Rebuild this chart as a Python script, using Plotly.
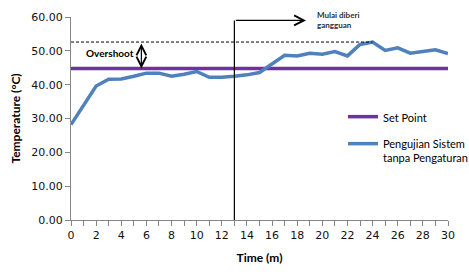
import plotly.graph_objects as go

time_m = list(range(0, 31))
temp_test = [28.2, 33.8, 39.6, 41.6, 41.7, 42.5, 43.4, 43.4, 42.5, 43.1,
             43.9, 42.2, 42.2, 42.5, 42.9, 43.6, 46.0, 48.7, 48.5, 49.3,
             49.0, 49.8, 48.5, 51.9, 52.6, 50.1, 50.9, 49.3, 49.8, 50.3, 49.2]
set_point_value = 44.8
set_point = [set_point_value] * len(time_m)

y_ticks = [0, 10, 20, 30, 40, 50, 60]
x_ticks = list(range(0, 31, 2))

disturb_time = 13
disturb_top = 59.0
disturb_arrow_end = 18.7
overshoot_x = 5.6
peak_value = max(temp_test)
peak_time = time_m[temp_test.index(peak_value)]

fig = go.Figure()
fig.add_trace(go.Scatter(x=time_m, y=set_point, mode="lines", name="Set Point",
                         line=dict(color="#7030A0", width=3.5), legendgroup="a"))
fig.add_trace(go.Scatter(x=time_m, y=temp_test, mode="lines",
                         name="Pengujian Sistem<br>tanpa Pengaturan",
                         line=dict(color="#4F81BD", width=3.5), legendgroup="b"))

# dashed overshoot line
fig.add_shape(type="line", x0=0, x1=peak_time, y0=peak_value, y1=peak_value,
              line=dict(color="black", width=1, dash="3px,2px"))
# vertical disturbance line
fig.add_shape(type="line", x0=disturb_time, x1=disturb_time, y0=0, y1=disturb_top,
              line=dict(color="black", width=1.2))
# horizontal arrow
fig.add_annotation(x=disturb_arrow_end, y=disturb_top, ax=disturb_time, ay=disturb_top,
                   xref="x", yref="y", axref="x", ayref="y", text="",
                   showarrow=True, arrowhead=5, arrowsize=1.6, arrowwidth=1.2,
                   arrowcolor="black", standoff=0, startstandoff=0)
# overshoot double arrow
fig.add_annotation(x=overshoot_x, y=set_point_value, ax=overshoot_x, ay=peak_value,
                   xref="x", yref="y", axref="x", ayref="y", text="",
                   showarrow=True, arrowhead=5, startarrowhead=5, arrowside="end+start",
                   arrowsize=1.6, startarrowsize=1.6, arrowwidth=1.2,
                   arrowcolor="black", standoff=0, startstandoff=0)
fig.add_annotation(x=1.0, y=(peak_value + set_point_value) / 2 + 0.6, xref="x", yref="y",
                   text="<b>Overshoot</b>", showarrow=False, xanchor="left",
                   font=dict(family="Lato", size=10, color="black"))
fig.add_annotation(x=19.4, y=disturb_top, xref="x", yref="y",
                   text="<b>Mulai diberi<br>gangguan</b>", showarrow=False,
                   xanchor="left", yanchor="middle", align="left",
                   font=dict(family="Lato", size=8, color="#1F2F3F"))

fig.update_layout(
    width=469, height=278,
    margin=dict(l=71, r=21, t=17, b=58, autoexpand=False),
    paper_bgcolor="white", plot_bgcolor="white",
    font=dict(family="DejaVu Sans", size=11, color="black"),
    showlegend=True,
    legend=dict(xref="container", yref="container", x=343 / 469, y=1 - 103 / 278,
                xanchor="left", yanchor="top",
                font=dict(family="Lato", size=11, color="black"),
                bgcolor="rgba(0,0,0,0)", itemwidth=30, tracegroupgap=8,
                valign="top"),
    xaxis=dict(range=[0, 30], tickvals=x_ticks, ticktext=[str(v) for v in x_ticks],
               showgrid=False, zeroline=False, showline=True, linecolor="#868686",
               linewidth=1, ticks="outside", ticklen=5, tickcolor="#868686",
               minor=dict(dtick=1, ticks="outside", ticklen=5, tickcolor="#868686"),
               tickfont=dict(family="DejaVu Sans", size=11, color="#111111"),
               title=dict(text="<b>Time (m)</b>", font=dict(family="Lato", size=12),
                          standoff=12)),
    yaxis=dict(range=[0, 60], tickvals=y_ticks, tickformat=".2f",
               showgrid=False, zeroline=False, showline=True, linecolor="#868686",
               linewidth=1, ticks="outside", ticklen=5, tickcolor="#868686",
               tickfont=dict(family="DejaVu Sans", size=11, color="#111111"),
               title=dict(text="<b>Temperature (°C)</b>", font=dict(family="Lato", size=12),
                          standoff=8)),
)

fig.write_html("out.html")
